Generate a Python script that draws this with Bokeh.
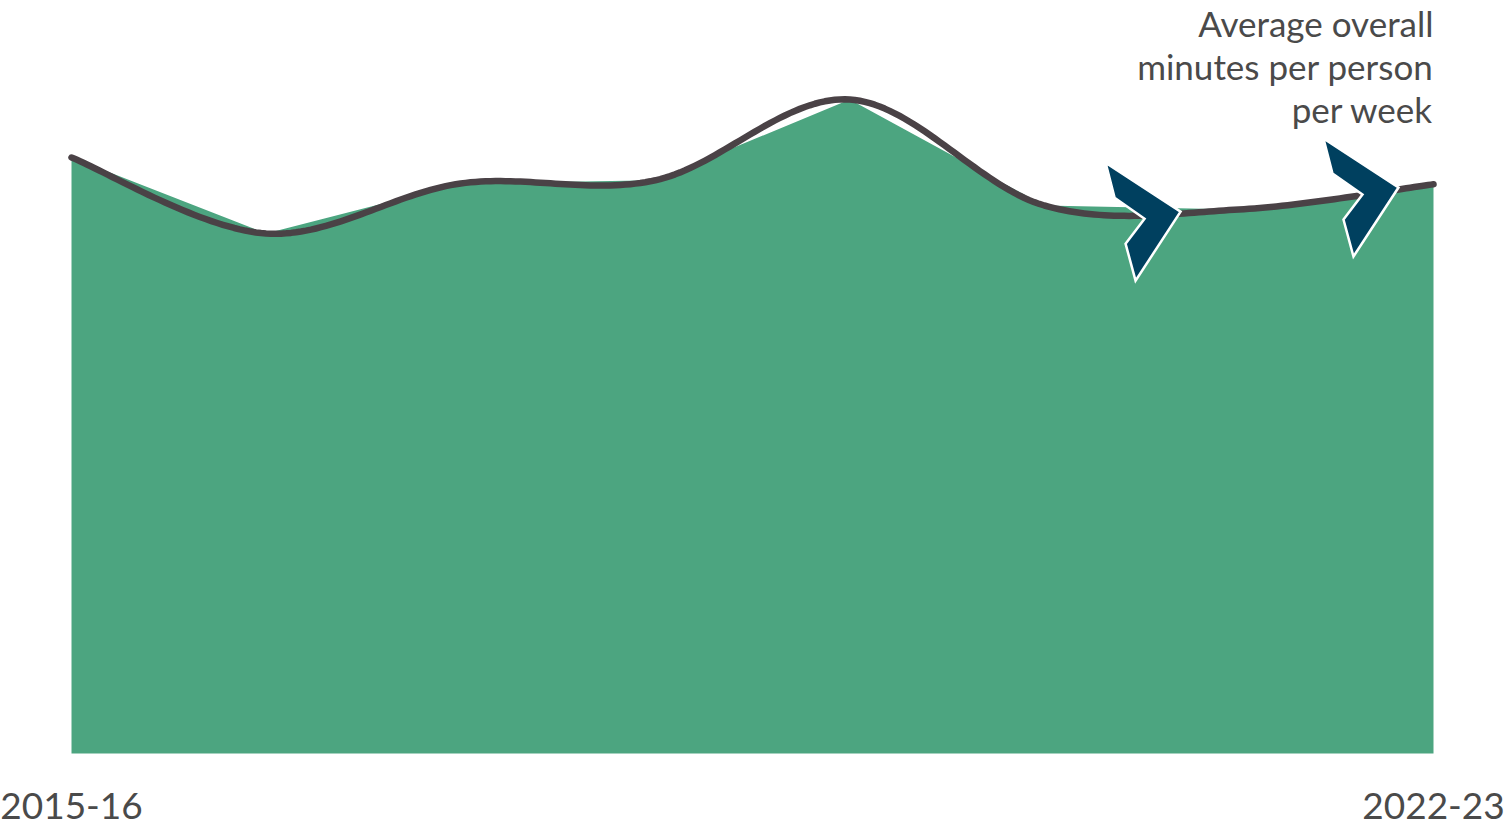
import numpy as np
from bokeh.plotting import figure
from bokeh.models import ColumnDataSource, Range1d
from bokeh.core.properties import value
from bokeh.embed import file_html
from bokeh.resources import INLINE

# ---- data ----
years = ["2015-16", "2016-17", "2017-18", "2018-19", "2019-20", "2020-21", "2021-22", "2022-23"]
minutes = [149.0, 130.0, 142.5, 143.3, 163.5, 137.0, 136.0, 142.3]
axis_labels = ["2015-16", "2022-23"]
axis_label_pos = [0, 7]
title_lines = ["Average overall", "minutes per person", "per week"]
arrow_at = [5.7, 6.82]

W, H = 1506, 825
px_per_x = (1433 - 71) / 7.0
px_per_y = 4.0

xs = np.arange(len(years), dtype=float)
ys = np.array(minutes, dtype=float)

p = figure(width=W, height=H, output_backend="svg", toolbar_location=None,
           x_range=Range1d(-71 / px_per_x, 7 + (W - 1433) / px_per_x),
           y_range=Range1d(-(H - 753) / px_per_y, 753 / px_per_y),
           min_border=0, outline_line_color=None)
p.axis.visible = False
p.grid.visible = False
p.background_fill_color = "white"
p.border_fill_color = "white"

# green area (straight segments)
p.varea(x=xs, y1=np.zeros_like(ys), y2=ys, fill_color="#4CA580", fill_alpha=1.0)

# smoothed line (Catmull-Rom style, like a spreadsheet "smoothed line")
P = np.column_stack([xs, ys])
Pext = np.vstack([P[0], P, P[-1]])
sx, sy = [], []
t = np.linspace(0, 1, 40)
for i in range(len(P) - 1):
    p0, p1, p2, p3 = Pext[i], Pext[i + 1], Pext[i + 2], Pext[i + 3]
    c1 = p1 + (p2 - p0) / 6.0
    c2 = p2 - (p3 - p1) / 6.0
    b = ((1 - t) ** 3)[:, None] * p1 + (3 * (1 - t) ** 2 * t)[:, None] * c1 \
        + (3 * (1 - t) * t ** 2)[:, None] * c2 + (t ** 3)[:, None] * p2
    if i > 0:
        b = b[1:]
    sx.extend(b[:, 0]); sy.extend(b[:, 1])
sx = np.array(sx); sy = np.array(sy)
p.line(sx, sy, line_color="#4A4246", line_width=6.5, line_cap="round", line_join="round")

# chevron markers anchored on the smoothed line
shape_px = [(-75, -49), (0, 0), (-45, 69), (-55, 32), (-36, 7), (-66, -14)]
cx, cy = [], []
for a in arrow_at:
    ay = np.interp(a, sx, sy)
    cx.append([a + dx / px_per_x for dx, dy in shape_px])
    cy.append([ay + 0.5 - dy / px_per_y for dx, dy in shape_px])
p.patches(cx, cy, fill_color="#00405F", line_color="white", line_width=2.5, line_join="miter")

# bottom labels
p.text(x=axis_label_pos, y=[-(805 - 753) / px_per_y] * 2, text=axis_labels,
       text_font=value("Lato"), text_font_size="37px", text_color="#4a4a4a",
       text_align="center", text_baseline="alphabetic")

# title text top right
base_px = [22, 65, 108]
p.text(x=[7] * 3, y=[(753 - b) / px_per_y for b in base_px], text=title_lines,
       text_font=value("Lato"), text_font_size="35px", text_color="#4a4a4a",
       text_align="right", text_baseline="alphabetic")

open("out.html", "w").write(file_html(p, INLINE))
